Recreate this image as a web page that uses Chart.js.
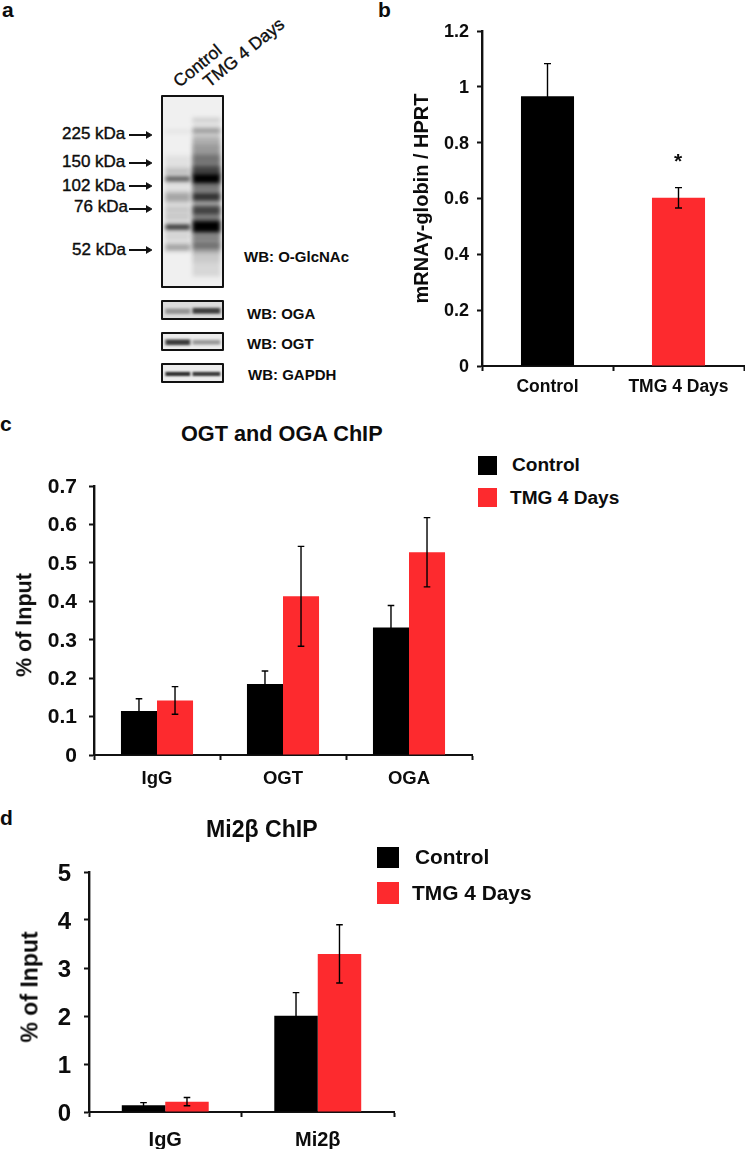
<!DOCTYPE html>
<html>
<head>
<meta charset="utf-8">
<script src="https://cdn.jsdelivr.net/npm/chart.js@4"></script>
<style>
html, body { margin: 0; padding: 0; background: #fff; }
body { position: relative; width: 745px; height: 1149px; overflow: hidden; font-family: "Liberation Sans", Arial, sans-serif; color: #0c0c0c; }
canvas { position: absolute; }
.blot { border: 2.4px solid #111; border-radius: 1px; }
.t { position: absolute; transform: translateY(-50%); white-space: nowrap; font-weight: bold; line-height: 1; }
.rot { transform: translate(-50%, -50%) rotate(-90deg); }
.panel { font-size: 21px; }
.kda { font-weight: normal; font-size: 17px; -webkit-text-stroke: 0.4px #111; }
.wb { font-size: 15px; }
.lane { font-weight: normal; font-size: 17.5px; -webkit-text-stroke: 0.35px #111; transform-origin: 0 50%; transform: translateY(-50%) rotate(-39deg); }
.swatch { position: absolute; }
svg { position: absolute; left: 0; top: 0; }
</style>
</head>
<body>

<div class="t panel" style="left:2px;top:9px">a</div>
<div class="t panel" style="left:378px;top:9px">b</div>
<div class="t panel" style="left:0;top:423px">c</div>
<div class="t panel" style="left:0;top:817px">d</div>

<div class="t lane" style="left:176px;top:84px">Control</div>
<div class="t lane" style="left:206px;top:84px">TMG 4 Days</div>

<div class="t kda" style="left:62px;top:133px">225 kDa</div>
<div class="t kda" style="left:62px;top:161px">150 kDa</div>
<div class="t kda" style="left:62px;top:185px">102 kDa</div>
<div class="t kda" style="left:74px;top:206px">76 kDa</div>
<div class="t kda" style="left:72px;top:249px">52 kDa</div>
<svg width="160" height="260" id="arrows"></svg>

<canvas class="blot" id="blotGlcnac" width="63" height="193" style="left:161px;top:95px"></canvas>
<canvas class="blot" id="blotOga" width="63" height="20" style="left:161px;top:300px"></canvas>
<canvas class="blot" id="blotOgt" width="63" height="19" style="left:161px;top:332px"></canvas>
<canvas class="blot" id="blotGapdh" width="63" height="20" style="left:161px;top:363px"></canvas>

<div class="t wb" style="left:244px;top:256px">WB: O-GlcNAc</div>
<div class="t wb" style="left:247px;top:313px">WB: OGA</div>
<div class="t wb" style="left:247px;top:343px">WB: OGT</div>
<div class="t wb" style="left:248px;top:374px">WB: GAPDH</div>

<canvas id="chartB" width="360" height="409" style="left:385px;top:1px"></canvas>
<div class="t" style="left:674px;top:160px;font-size:21px">*</div>

<canvas id="chartC" width="477" height="343" style="left:0;top:456px"></canvas>
<div class="t" style="left:181px;top:434px;font-size:21.7px">OGT and OGA ChIP</div>
<div class="t rot" style="left:25px;top:625px;font-size:21.5px">% of Input</div>
<div class="swatch" style="left:478px;top:456px;width:19px;height:19px;background:#000"></div>
<div class="swatch" style="left:478px;top:488px;width:19px;height:19px;background:#fd2a2e"></div>
<div class="t" style="left:512px;top:465px;font-size:19.1px">Control</div>
<div class="t" style="left:510px;top:498px;font-size:19.1px">TMG 4 Days</div>

<canvas id="chartD" width="399" height="307" style="left:0;top:842px"></canvas>
<div class="t" style="left:206px;top:830px;font-size:23.1px">Mi2β ChIP</div>
<div class="t rot" style="left:30px;top:987px;font-size:23px">% of Input</div>
<div class="swatch" style="left:377px;top:847px;width:22px;height:21px;background:#000"></div>
<div class="swatch" style="left:377px;top:882px;width:22px;height:22px;background:#fd2a2e"></div>
<div class="t" style="left:415px;top:857px;font-size:20.9px">Control</div>
<div class="t" style="left:412px;top:893px;font-size:20.9px">TMG 4 Days</div>

<script>
// panel b
const categoriesB = ['Control', 'TMG 4 Days'];
const valuesB = [0.966, 0.603];
const errUpB = [0.117, 0.036];
const errDownB = [0.117, 0.037];
const ticksB = ['0', '0.2', '0.4', '0.6', '0.8', '1', '1.2'];

// panel c
const categoriesC = ['IgG', 'OGT', 'OGA'];
const controlC = [0.1144, 0.1845, 0.332];
const tmgC = [0.142, 0.413, 0.5276];
const controlErrC = [0.032, 0.034, 0.057];
const tmgErrC = [0.036, 0.13, 0.09];
const ticksC = ['0', '0.1', '0.2', '0.3', '0.4', '0.5', '0.6', '0.7'];

// panel d
const categoriesD = ['IgG', 'Mi2β'];
const controlD = [0.139, 2.006];
const tmgD = [0.216, 3.294];
const controlErrD = [0.056, 0.48];
const tmgErrD = [0.085, 0.606];
const ticksD = ['0', '1', '2', '3', '4', '5'];

// blot bands: [position % down the strip, thickness %, darkness]
const glcnacControl = [[56, 50, 0.06], [18.2, 1.5, 0.06], [39.2, 3, 0.16], [43.3, 2.2, 0.75], [53, 5, 0.26], [59.5, 3, 0.12], [63.4, 3, 0.12], [68.8, 2.4, 0.9], [73.6, 3, 0.06], [79.6, 3.5, 0.28]];
const glcnacTmg = [[55, 80, 0.1], [52, 62, 0.18], [12.3, 2.5, 0.14], [17.9, 2.2, 0.32], [30, 10, 0.12], [35, 9, 0.25], [39, 5, 0.5], [43.1, 5.5, 1], [48, 4, 0.3], [52.8, 4.5, 0.72], [60, 5, 0.62], [64.2, 3, 0.25], [68.5, 6.5, 1], [74.4, 4, 0.25], [78.7, 4, 0.35], [85.5, 4, 0.06]];
const ogaControl = [[58, 34, 0.32]];
const ogaTmg = [[55, 36, 0.72]];
const ogtControl = [[55, 38, 0.75]];
const ogtTmg = [[55, 32, 0.35]];
const gapdhControl = [[56, 26, 0.8]];
const gapdhTmg = [[56, 26, 0.75]];

// kDa arrows, one per marker label
const arrowRows = [135, 163, 186, 209, 250];

const BLACK = '#000';
const RED = '#fd2a2e';

Chart.defaults.font.family = '"Liberation Sans", Arial, sans-serif';
Chart.defaults.font.weight = 'bold';
Chart.defaults.color = '#0c0c0c';
Chart.defaults.animation = false;

// whiskers, read from the bar elements and the y scale
const errorBars = {
    id: 'errorBars',
    afterDatasetsDraw(chart, args, opts) {
        const ctx = chart.ctx;
        const y = chart.scales.y;
        ctx.save();
        ctx.strokeStyle = '#000';
        ctx.lineWidth = 1.4;
        chart.data.datasets.forEach((ds, i) => {
            chart.getDatasetMeta(i).data.forEach((bar, j) => {
                const v = ds.data[j];
                const top = y.getPixelForValue(v + ds.errUp[j]);
                const bottom = y.getPixelForValue(v - ds.errDown[j]);
                ctx.beginPath();
                ctx.moveTo(bar.x, top);
                ctx.lineTo(bar.x, bottom);
                ctx.moveTo(bar.x - opts.cap, top);
                ctx.lineTo(bar.x + opts.cap, top);
                ctx.moveTo(bar.x - opts.cap, bottom);
                ctx.lineTo(bar.x + opts.cap, bottom);
                ctx.stroke();
            });
        });
        ctx.restore();
    }
};

function barChart(id, cfg) {
    return new Chart(document.getElementById(id), {
        type: 'bar',
        data: { labels: cfg.categories, datasets: cfg.datasets },
        plugins: [errorBars],
        options: {
            responsive: false,
            // top has to clear the y scale's own padding (half a label + tick padding)
            layout: { autoPadding: false, padding: { top: 30, right: cfg.rightPad, left: 0, bottom: 0 } },
            plugins: { legend: { display: false }, tooltip: { enabled: false }, errorBars: { cap: cfg.cap } },
            datasets: { bar: { barPercentage: 1, categoryPercentage: cfg.group } },
            scales: {
                x: {
                    afterFit: s => { s.height = cfg.xHeight; },
                    border: { color: '#111', width: 2 },
                    grid: { drawOnChartArea: false, color: '#111', tickLength: 5, tickWidth: 2 },
                    ticks: { font: { size: cfg.xFont }, padding: cfg.xPad, maxRotation: 0 }
                },
                y: {
                    min: 0, max: cfg.max,
                    afterFit: s => { s.width = cfg.yWidth; },
                    border: { color: '#111', width: 2.4 },
                    grid: { drawOnChartArea: false, color: '#111', tickLength: 5, tickWidth: 2 },
                    ticks: {
                        stepSize: cfg.step,
                        padding: cfg.yPad,
                        labelOffset: cfg.yLabelOffset,
                        font: { size: cfg.yFont },
                        callback: (v, i) => cfg.ticks[i]
                    },
                    title: {
                        display: !!cfg.yTitle,
                        text: cfg.yTitle,
                        padding: { top: cfg.titlePad, bottom: 0 },
                        font: { size: cfg.titleFont }
                    }
                }
            }
        }
    });
}

barChart('chartB', {
    categories: categoriesB,
    datasets: [{ data: valuesB, errUp: errUpB, errDown: errDownB, backgroundColor: [BLACK, RED] }],
    max: 1.2, step: 0.2, ticks: ticksB, group: 0.405, cap: 3.5, rightPad: 1,
    yWidth: 97, xHeight: 44, xFont: 17.5, yFont: 18, xPad: 6, yPad: 8, yLabelOffset: 1,
    yTitle: 'mRNAγ-globin / HPRT', titleFont: 20, titlePad: 25
});

barChart('chartC', {
    categories: categoriesC,
    datasets: [
        { label: 'Control', data: controlC, errUp: controlErrC, errDown: controlErrC, backgroundColor: BLACK },
        { label: 'TMG 4 Days', data: tmgC, errUp: tmgErrC, errDown: tmgErrC, backgroundColor: RED }
    ],
    max: 0.7, step: 0.1, ticks: ticksC, group: 0.572, cap: 3.3, rightPad: 5,
    yWidth: 94, xHeight: 44, xFont: 18.5, yFont: 21, xPad: 8, yPad: 12, yLabelOffset: 1
});

barChart('chartD', {
    categories: categoriesD,
    datasets: [
        { label: 'Control', data: controlD, errUp: controlErrD, errDown: controlErrD, backgroundColor: BLACK },
        { label: 'TMG 4 Days', data: tmgD, errUp: tmgErrD, errDown: tmgErrD, backgroundColor: RED }
    ],
    max: 5, step: 1, ticks: ticksD, group: 0.57, cap: 3.3, rightPad: 5,
    yWidth: 89, xHeight: 37, xFont: 20, yFont: 24, xPad: 11, yPad: 13, yLabelOffset: 2
});

// western blot strips, bands placed through the chart's own x and y scales
const blotBands = {
    id: 'blotBands',
    beforeDatasetsDraw(chart, args, opts) {
        const ctx = chart.ctx;
        const { x, y } = chart.scales;
        const area = chart.chartArea;
        ctx.save();
        ctx.fillStyle = opts.background;
        ctx.fillRect(area.left, area.top, area.width, area.height);
        ctx.filter = 'blur(' + opts.blur + 'px)';
        chart.data.datasets.forEach(ds => {
            ds.bands.forEach(b => {
                const top = y.getPixelForValue(b[0] - b[1] / 2);
                const bottom = y.getPixelForValue(b[0] + b[1] / 2);
                const left = x.getPixelForValue(ds.lane - ds.half);
                const right = x.getPixelForValue(ds.lane + ds.half);
                ctx.fillStyle = 'rgba(0,0,0,' + b[2] + ')';
                ctx.fillRect(left, top, right - left, bottom - top);
            });
        });
        ctx.restore();
    }
};

function blotChart(id, control, tmg, background, blur) {
    const lane = (bands, center, half) => ({
        bands, lane: center, half,
        data: bands.map(b => ({ x: center, y: b[0] })),
        pointRadius: 0
    });
    return new Chart(document.getElementById(id), {
        type: 'scatter',
        data: { datasets: [lane(control, 0.5, 0.42), lane(tmg, 1.47, 0.47)] },
        plugins: [blotBands],
        options: {
            responsive: false,
            layout: { autoPadding: false },
            plugins: { legend: { display: false }, tooltip: { enabled: false }, blotBands: { background, blur } },
            scales: {
                x: { type: 'linear', min: 0, max: 2, display: false },
                y: { type: 'linear', min: 0, max: 100, reverse: true, display: false }
            }
        }
    });
}

blotChart('blotGlcnac', glcnacControl, glcnacTmg, '#f0f0f0', 1.9);
blotChart('blotOga', ogaControl, ogaTmg, '#dcdcdc', 1.5);
blotChart('blotOgt', ogtControl, ogtTmg, '#ececec', 1.5);
blotChart('blotGapdh', gapdhControl, gapdhTmg, '#ececec', 1.3);

// kDa arrows
const arrowSvg = document.getElementById('arrows');
arrowRows.forEach(row => {
    arrowSvg.insertAdjacentHTML('beforeend',
        '<line x1="129" x2="147" y1="' + row + '" y2="' + row + '" stroke="#111" stroke-width="2"/>' +
        '<polyline points="146,' + (row - 3.5) + ' 152,' + row + ' 146,' + (row + 3.5) + '" fill="#111" stroke="#111" stroke-width="0.8"/>');
});
</script>
</body>
</html>
